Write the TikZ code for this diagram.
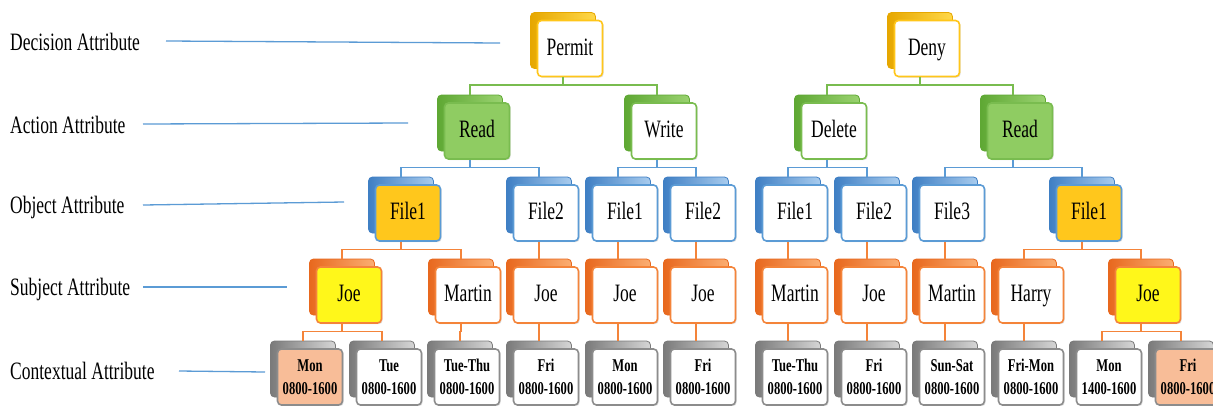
\documentclass[tikz,border=0pt]{standalone}
\usepackage{fontspec}
\setmainfont{Liberation Serif}[FakeStretch=0.7]
\usetikzlibrary{shadows}
\definecolor{gdB}{HTML}{E6A700}\definecolor{gdL}{HTML}{FFD84A}\definecolor{gdF}{HTML}{FFC61A}
\definecolor{grB}{HTML}{5FA834}\definecolor{grL}{HTML}{9AD270}\definecolor{grF}{HTML}{79BC4F}
\definecolor{blB}{HTML}{3F7FC4}\definecolor{blL}{HTML}{A9CCEE}\definecolor{blF}{HTML}{5B9BD5}
\definecolor{orB}{HTML}{E8681E}\definecolor{orL}{HTML}{FBAE72}\definecolor{orF}{HTML}{F4843A}
\definecolor{gyB}{HTML}{7A7A7A}\definecolor{gyL}{HTML}{D6D6D6}\definecolor{gyF}{HTML}{8C8C8C}
\definecolor{amber}{HTML}{FFC71C}\definecolor{yel}{HTML}{FFF71A}
\definecolor{salmon}{HTML}{F8BD98}\definecolor{leaf}{HTML}{8FCC62}
\definecolor{labline}{HTML}{5B9BD5}
\tikzset{
  x=1pt,y=-1pt,
  backcard/.style={rounded corners=4pt,minimum width=65pt,minimum height=56pt,inner sep=0pt,line width=0.8pt},
  frontcard/.style={rounded corners=4pt,minimum width=65pt,minimum height=56pt,inner sep=0pt,line width=1.6pt,
     drop shadow={shadow xshift=1.2pt,shadow yshift=-1.2pt,opacity=0.25},
     font=\fontsize{25}{28}\selectfont,text height=16.5pt,text depth=3pt},
  lvdecB/.style={left color=gdB,right color=gdL,draw=gdB},
  lvdecF/.style={draw=gdF},
  lvactB/.style={left color=grB,right color=grL,draw=grB},
  lvactF/.style={draw=grF},
  lvobjB/.style={left color=blB,right color=blL,draw=blB},
  lvobjF/.style={draw=blF},
  lvsubB/.style={left color=orB,right color=orL,draw=orB},
  lvsubF/.style={draw=orF},
  lvctxB/.style={left color=gyB,right color=gyL,draw=gyB},
  lvctxF/.style={draw=gyF,font=\fontsize{18}{23}\selectfont\bfseries,align=center,text height=,text depth=},
  cgreen/.style={draw=grF,line width=1.5pt},
  cblue/.style={draw=blF,line width=1.5pt},
  corange/.style={draw=orF,line width=1.5pt},
  lab/.style={anchor=base west,font=\fontsize{25}{28}\selectfont,inner sep=0pt},
  lline/.style={draw=labline,line width=1.3pt},
}
\newcommand\card[6]{%
  \node[backcard,#4B] (#1b) at (#2-7,#3-8) {};
  \node[frontcard,#4F,fill=#5] (#1) at (#2,#3) {#6};}
\newcommand\link[3]{\draw[#3] (#1b |- #1.south) -- ++(0,7.5) -| (#2b.north);}
\begin{document}
\begin{tikzpicture}
\useasboundingbox (0,0) rectangle (1213,405);
\clip (0,0) rectangle (1213,405);
\fill[white] (0,0) rectangle (1213,405);
% left labels
\node[lab] (ld) at (10,50) {Decision Attribute};
\node[lab] (la) at (10,133) {Action Attribute};
\node[lab] (lo) at (10,213) {Object Attribute};
\node[lab] (ls) at (10,295) {Subject Attribute};
\node[lab] (lc) at (10,379) {Contextual Attribute};
\coordinate (ld1) at (166,41); \coordinate (ld2) at (500,43);
\coordinate (la1) at (143,124); \coordinate (la2) at (408,123);
\coordinate (lo1) at (143,205); \coordinate (lo2) at (344,202);
\coordinate (ls1) at (143,287); \coordinate (ls2) at (287,287);
\coordinate (lc1) at (179,371); \coordinate (lc2) at (265,372);
\draw[lline] (ld1) -- (ld2);
\draw[lline] (la1) -- (la2);
\draw[lline] (lo1) -- (lo2);
\draw[lline] (ls1) -- (ls2);
\draw[lline] (lc1) -- (lc2);
% connectors first (behind cards)
\begin{scope}[overlay]\end{scope}
% cards
\card{permit}{570}{48.5}{lvdec}{white}{Permit}
\card{deny}{927}{48.5}{lvdec}{white}{Deny}
\card{reada}{477}{131}{lvact}{leaf}{Read}
\card{write}{664}{131}{lvact}{white}{Write}
\card{delete}{834}{131}{lvact}{white}{Delete}
\card{readb}{1020}{131}{lvact}{leaf}{Read}
\card{fa}{408}{213}{lvobj}{amber}{File1}
\card{fb}{546}{213}{lvobj}{white}{File2}
\card{fc}{625}{213}{lvobj}{white}{File1}
\card{fd}{703}{213}{lvobj}{white}{File2}
\card{fe}{795}{213}{lvobj}{white}{File1}
\card{ff}{874}{213}{lvobj}{white}{File2}
\card{fg}{952}{213}{lvobj}{white}{File3}
\card{fh}{1089}{213}{lvobj}{amber}{File1}
\card{sa}{349}{295}{lvsub}{yel}{Joe}
\card{sb}{468}{295}{lvsub}{white}{Martin}
\card{sc}{546}{295}{lvsub}{white}{Joe}
\card{sd}{625}{295}{lvsub}{white}{Joe}
\card{se}{703}{295}{lvsub}{white}{Joe}
\card{sf}{795}{295}{lvsub}{white}{Martin}
\card{sg}{874}{295}{lvsub}{white}{Joe}
\card{sh}{952}{295}{lvsub}{white}{Martin}
\card{si}{1031}{295}{lvsub}{white}{Harry}
\card{sj}{1148}{295}{lvsub}{yel}{Joe}
\card{ca}{310}{377}{lvctx}{salmon}{Mon\\0800-1600}
\card{cb}{389}{377}{lvctx}{white}{Tue\\0800-1600}
\card{cc}{467}{377}{lvctx}{white}{Tue-Thu\\0800-1600}
\card{cd}{546}{377}{lvctx}{white}{Fri\\0800-1600}
\card{ce}{625}{377}{lvctx}{white}{Mon\\0800-1600}
\card{cf}{703}{377}{lvctx}{white}{Fri\\0800-1600}
\card{cg}{795}{377}{lvctx}{white}{Tue-Thu\\0800-1600}
\card{ch}{874}{377}{lvctx}{white}{Fri\\0800-1600}
\card{ci}{952}{377}{lvctx}{white}{Sun-Sat\\0800-1600}
\card{cj}{1031}{377}{lvctx}{white}{Fri-Mon\\0800-1600}
\card{ck}{1109}{377}{lvctx}{white}{Mon\\1400-1600}
\card{cl}{1188}{377}{lvctx}{salmon}{Fri\\0800-1600}
% connectors
\link{permit}{reada}{cgreen}\link{permit}{write}{cgreen}
\link{deny}{delete}{cgreen}\link{deny}{readb}{cgreen}
\link{reada}{fa}{cblue}\link{reada}{fb}{cblue}
\link{write}{fc}{cblue}\link{write}{fd}{cblue}
\link{delete}{fe}{cblue}\link{delete}{ff}{cblue}
\link{readb}{fg}{cblue}\link{readb}{fh}{cblue}
\link{fa}{sa}{corange}\link{fa}{sb}{corange}
\link{fb}{sc}{corange}\link{fc}{sd}{corange}\link{fd}{se}{corange}
\link{fe}{sf}{corange}\link{ff}{sg}{corange}\link{fg}{sh}{corange}
\link{fh}{si}{corange}\link{fh}{sj}{corange}
\link{sa}{ca}{corange}\link{sa}{cb}{corange}
\link{sb}{cc}{corange}\link{sc}{cd}{corange}\link{sd}{ce}{corange}
\link{se}{cf}{corange}\link{sf}{cg}{corange}\link{sg}{ch}{corange}
\link{sh}{ci}{corange}\link{si}{cj}{corange}
\link{sj}{ck}{corange}\link{sj}{cl}{corange}
\end{tikzpicture}
\end{document}
